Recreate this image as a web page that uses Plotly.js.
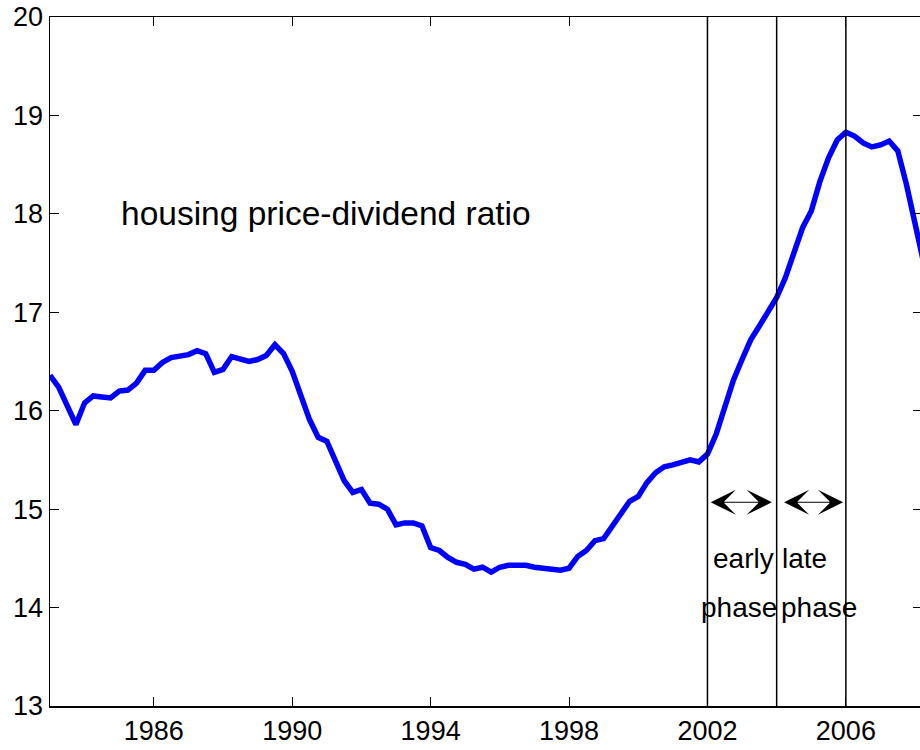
<!DOCTYPE html>
<html>
<head>
<meta charset="utf-8">
<script src="https://cdn.plot.ly/plotly-3.0.1.min.js"></script>
<style>
html, body { margin: 0; padding: 0; overflow: hidden; background: #fff; }
#chart { width: 924px; height: 750px; }
</style>
</head>
<body>
<div id="chart"></div>
<script>
// Quarterly dates
const dates = [
  1983.00, 1983.25, 1983.50, 1983.75,
  1984.00, 1984.25, 1984.50, 1984.75,
  1985.00, 1985.25, 1985.50, 1985.75,
  1986.00, 1986.25, 1986.50, 1986.75,
  1987.00, 1987.25, 1987.50, 1987.75,
  1988.00, 1988.25, 1988.50, 1988.75,
  1989.00, 1989.25, 1989.50, 1989.75,
  1990.00, 1990.25, 1990.50, 1990.75,
  1991.00, 1991.25, 1991.50, 1991.75,
  1992.00, 1992.25, 1992.50, 1992.75,
  1993.00, 1993.25, 1993.50, 1993.75,
  1994.00, 1994.25, 1994.50, 1994.75,
  1995.00, 1995.25, 1995.50, 1995.75,
  1996.00, 1996.25, 1996.50, 1996.75,
  1997.00, 1997.25, 1997.50, 1997.75,
  1998.00, 1998.25, 1998.50, 1998.75,
  1999.00, 1999.25, 1999.50, 1999.75,
  2000.00, 2000.25, 2000.50, 2000.75,
  2001.00, 2001.25, 2001.50, 2001.75,
  2002.00, 2002.25, 2002.50, 2002.75,
  2003.00, 2003.25, 2003.50, 2003.75,
  2004.00, 2004.25, 2004.50, 2004.75,
  2005.00, 2005.25, 2005.50, 2005.75,
  2006.00, 2006.25, 2006.50, 2006.75,
  2007.00, 2007.25, 2007.50, 2007.75,
  2008.00, 2008.25
];

// Housing price-dividend ratio
const priceDividend = [
  16.36, 16.24, 16.05, 15.86,
  16.08, 16.15, 16.14, 16.13,
  16.20, 16.21, 16.28, 16.41,
  16.41, 16.49, 16.54, 16.56,
  16.57, 16.61, 16.58, 16.39,
  16.42, 16.55, 16.53, 16.50,
  16.52, 16.56, 16.67, 16.58,
  16.40, 16.16, 15.91, 15.73,
  15.69, 15.49, 15.29, 15.17,
  15.20, 15.06, 15.05, 15.00,
  14.84, 14.86, 14.86, 14.83,
  14.61, 14.58, 14.51, 14.46,
  14.44, 14.39, 14.41, 14.36,
  14.41, 14.43, 14.43, 14.43,
  14.41, 14.40, 14.39, 14.38,
  14.40, 14.52, 14.58, 14.68,
  14.70, 14.83, 14.96, 15.08,
  15.13, 15.27, 15.37, 15.43,
  15.45, 15.47, 15.50, 15.48,
  15.56, 15.76, 16.05, 16.31,
  16.52, 16.72, 16.86, 17.00,
  17.15, 17.35, 17.60, 17.86,
  18.03, 18.33, 18.57, 18.75,
  18.83, 18.79, 18.72, 18.68,
  18.70, 18.74, 18.64, 18.30,
  17.90, 17.50
];

const xTickVals = [1986, 1990, 1994, 1998, 2002, 2006];
const xTickText = ['1986', '1990', '1994', '1998', '2002', '2006'];
const yTickVals = [13, 14, 15, 16, 17, 18, 19, 20];
const yTickText = ['13', '14', '15', '16', '17', '18', '19', '20'];

// Phase boundaries (vertical lines)
const phaseBoundaries = [2002, 2004, 2006];
const seriesLabel = 'housing price-dividend ratio';
const phaseLabels = ['early', 'late'];
const phaseWord = 'phase';

const FONT = 'Liberation Sans, Arial, Helvetica, sans-serif';

const trace = {
  x: dates,
  y: priceDividend,
  type: 'scatter',
  mode: 'lines',
  line: { color: '#0000ff', width: 5.5 },
  hoverinfo: 'skip'
};

const shapes = phaseBoundaries.map(v => ({
  type: 'line', xref: 'x', yref: 'y',
  x0: v, x1: v, y0: 13, y1: 20,
  line: { color: '#000', width: 1.5 }
}));

const arrowStyle = {
  xref: 'x', yref: 'y', axref: 'x', ayref: 'y', text: '', showarrow: true,
  arrowhead: 3, startarrowhead: 3, arrowside: 'end+start',
  arrowsize: 4.2, startarrowsize: 4.2, arrowwidth: 1, arrowcolor: '#000',
  standoff: 0, startstandoff: 0
};

const annotations = [
  { x: 1985, y: 18, xref: 'x', yref: 'y', text: seriesLabel, showarrow: false,
    xanchor: 'left', yanchor: 'middle', font: { family: FONT, size: 33.5, color: '#000' } },
  Object.assign({}, arrowStyle, { x: phaseBoundaries[1] - 0.14, y: 15.07, ax: phaseBoundaries[0] + 0.05, ay: 15.07 }),
  Object.assign({}, arrowStyle, { x: phaseBoundaries[2] - 0.08, y: 15.07, ax: phaseBoundaries[1] + 0.17, ay: 15.07 }),
  { x: 2002.1, y: 14.5, xref: 'x', yref: 'y', text: phaseLabels[0], showarrow: false,
    xanchor: 'left', yanchor: 'middle', font: { family: FONT, size: 28, color: '#000' } },
  { x: 2004.1, y: 14.5, xref: 'x', yref: 'y', text: phaseLabels[1], showarrow: false,
    xanchor: 'left', yanchor: 'middle', font: { family: FONT, size: 28, color: '#000' } },
  { x: 2001.75, y: 14.0, xref: 'x', yref: 'y', text: phaseWord, showarrow: false,
    xanchor: 'left', yanchor: 'middle', font: { family: FONT, size: 28, color: '#000' } },
  { x: 2004.06, y: 14.0, xref: 'x', yref: 'y', text: phaseWord, showarrow: false,
    xanchor: 'left', yanchor: 'middle', font: { family: FONT, size: 28, color: '#000' } }
];

const layout = {
  width: 924, height: 750,
  margin: { l: 50, r: 2, t: 17, b: 44, pad: 0 },
  paper_bgcolor: '#fff', plot_bgcolor: '#fff',
  showlegend: false,
  font: { family: FONT, size: 27, color: '#000' },
  xaxis: {
    range: [1983, 2008.2], tickvals: xTickVals, ticktext: xTickText,
    ticks: 'inside', ticklen: 9, tickwidth: 1, tickcolor: '#000',
    showline: true, linecolor: '#000', linewidth: 1.5, mirror: 'ticks',
    showgrid: false, zeroline: false,
    tickfont: { family: FONT, size: 27, color: '#000' }
  },
  yaxis: {
    range: [13, 20], tickvals: yTickVals, ticktext: yTickText,
    ticks: 'inside', ticklen: 9, tickwidth: 1, tickcolor: '#000',
    showline: true, linecolor: '#000', linewidth: 1.5, mirror: 'ticks',
    showgrid: false, zeroline: false,
    tickfont: { family: FONT, size: 27, color: '#000' }
  },
  shapes: shapes,
  annotations: annotations
};

Plotly.newPlot('chart', [trace], layout, { displayModeBar: false, staticPlot: true });
</script>
</body>
</html>
